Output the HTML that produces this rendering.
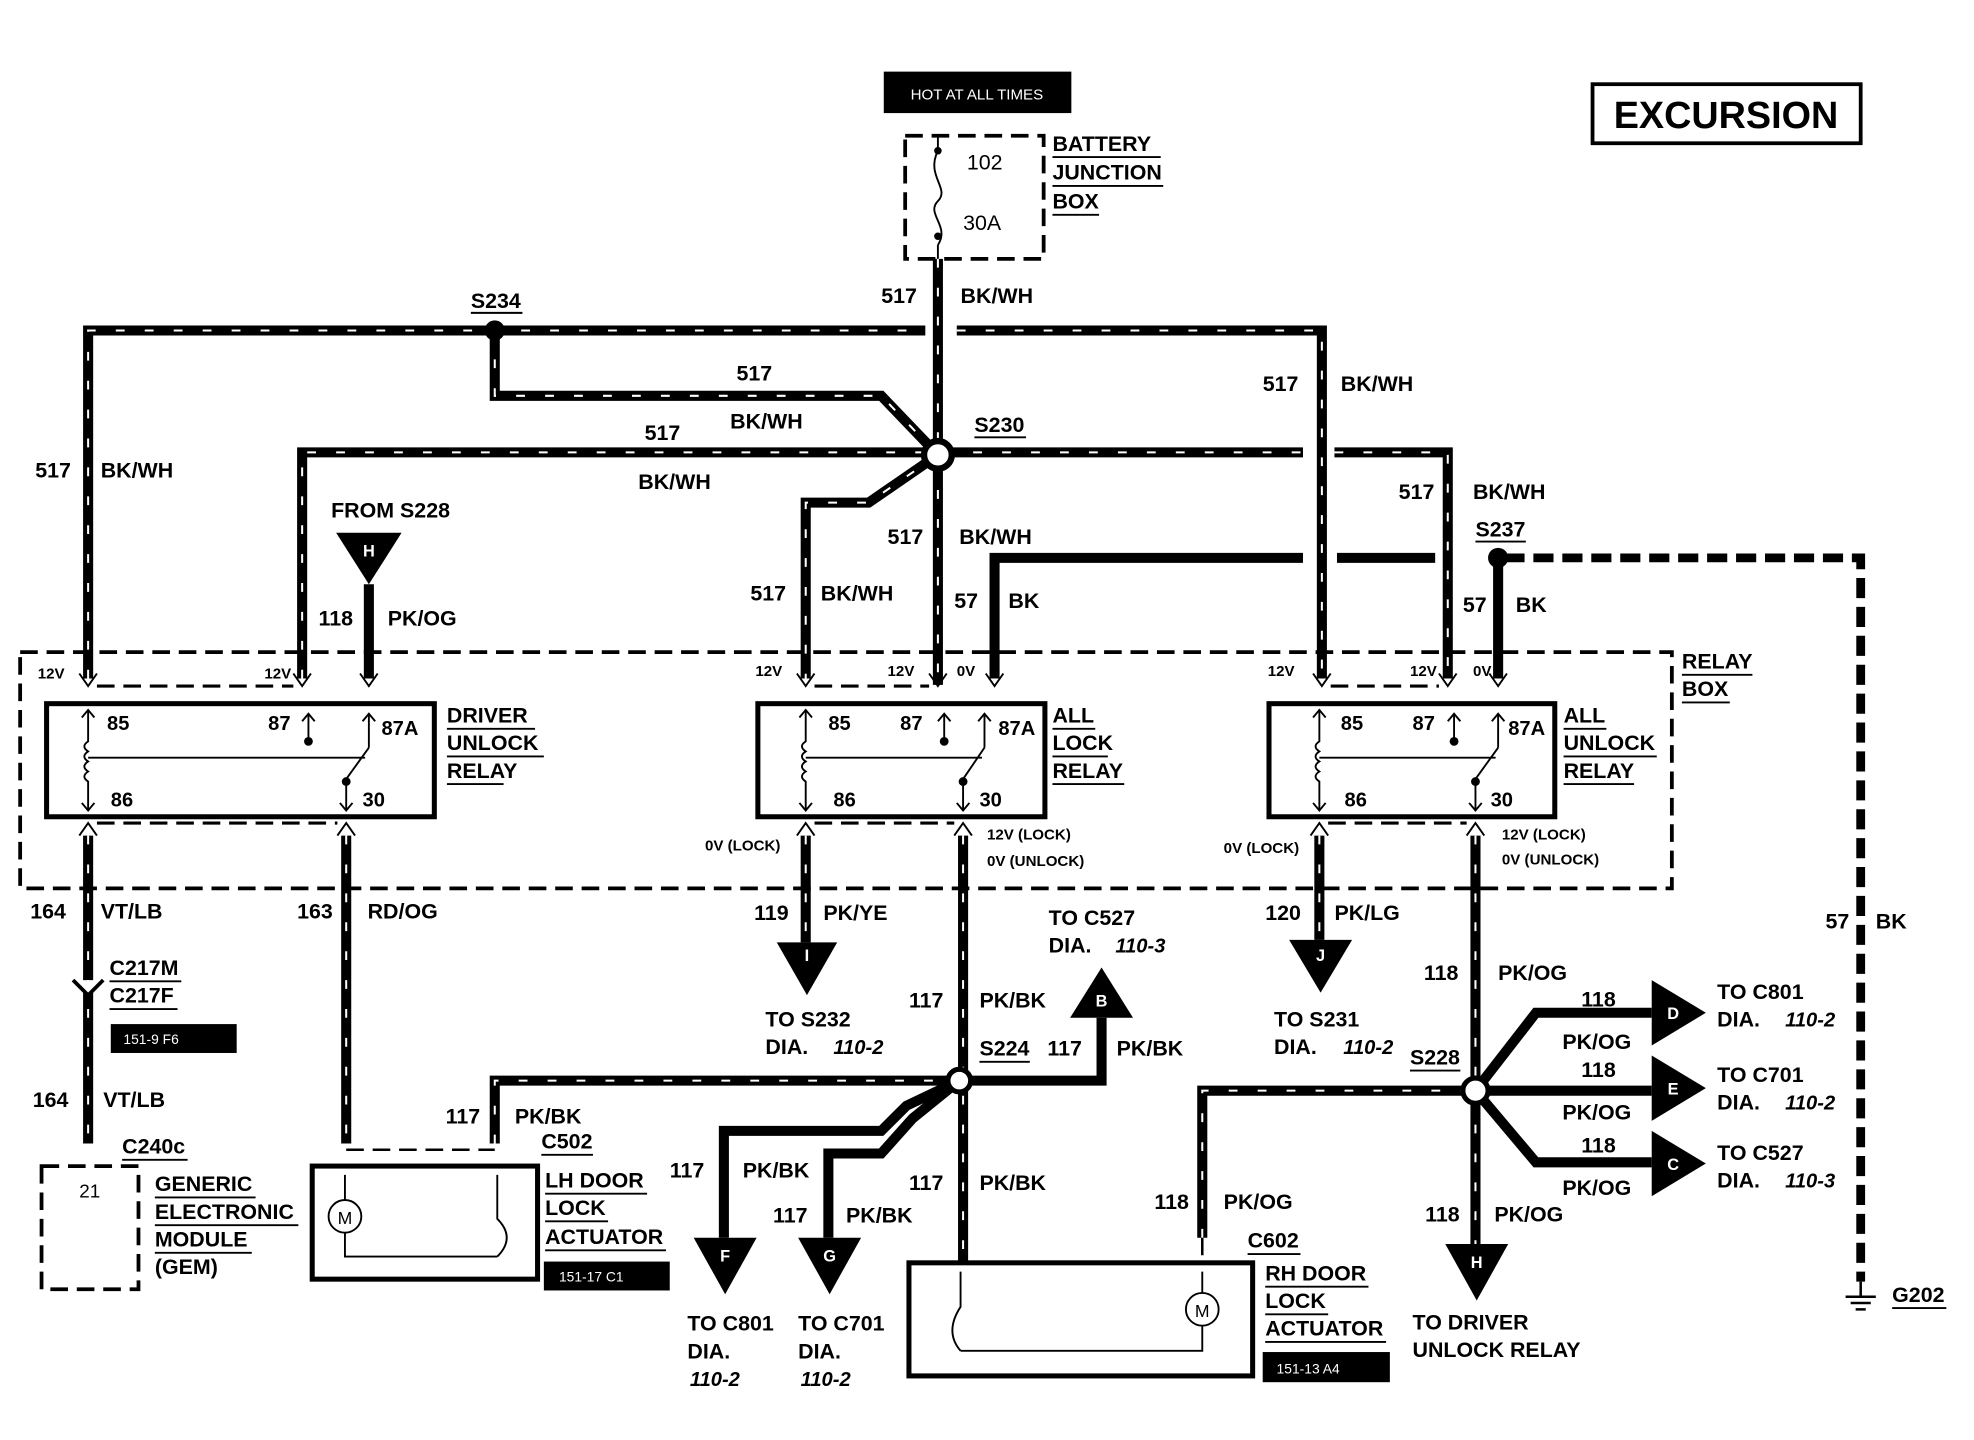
<!DOCTYPE html>
<html><head><meta charset="utf-8"><style>
html,body{margin:0;padding:0;background:#fff}
svg{display:block}
text{font-family:"Liberation Sans",sans-serif;font-weight:bold;fill:#000}
.w{stroke:#000;stroke-width:8;fill:none}
.s{stroke:#fff;stroke-width:1.6;fill:none;stroke-dasharray:7 16}
.d{stroke:#000;stroke-width:3;fill:none;stroke-dasharray:14 7}
.t{font-size:17px}
.it{font-style:italic;font-weight:normal;font-size:16px}
.sm{font-size:12px}
.r{stroke:#000;stroke-width:4;fill:none}
.th{stroke:#000;stroke-width:1.5;fill:none}
</style></head><body>
<svg width="1974" height="1440" viewBox="0 0 1568 1146" preserveAspectRatio="none" xmlns="http://www.w3.org/2000/svg">
<!-- header -->
<rect x="702" y="57" width="149" height="33" fill="#000"/>
<text x="776" y="79" text-anchor="middle" style="font-size:12px;font-weight:normal;fill:#fff">HOT AT ALL TIMES</text>
<rect x="1265" y="67" width="213" height="47" fill="none" stroke="#000" stroke-width="3"/>
<text x="1371" y="102" text-anchor="middle" style="font-size:30px">EXCURSION</text>
<rect x="719" y="108" width="110" height="98" class="d"/>
<path d="M745 108 V120 M745 195 V206" class="th" stroke-width="3"/>
<path d="M745 120 C735 140 755 150 745 160 C735 170 755 180 745 195" class="th" stroke-width="2"/>
<circle cx="745" cy="120" r="3"/><circle cx="745" cy="188" r="3"/>
<text x="768" y="135" class="t" style="font-weight:normal">102</text>
<text x="765" y="183" class="t" style="font-weight:normal">30A</text>
<text x="836" y="120" class="t">BATTERY</text><text x="836" y="143" class="t">JUNCTION</text><text x="836" y="166" class="t">BOX</text>
<path d="M836 125H922M836 148H924M836 171H873" class="th"/>

<!-- BK/WH wires -->
<g>
<path class="w" d="M745 206V545 M70 540V263H735 M760 263H1050V540 M393 263V315H700L745 362 M240 540V360H1035 M1060 360H1150V540 M745 362L690 400H640V540"/>
<path class="s" d="M745 206V545 M70 540V263H735 M760 263H1050V540 M393 263V315H700L745 362 M240 540V360H1035 M1060 360H1150V540 M745 362L690 400H640V540"/>
</g>
<!-- solid BK -->
<path class="w" d="M790 540V444H1035 M1062 444H1140 M1190 444V540"/>
<path class="d" d="M1195 444H1478V1020" style="stroke-width:7;stroke-dasharray:16 7"/>
<circle cx="393" cy="263" r="8"/>
<circle cx="1190" cy="444" r="8"/>
<circle cx="745" cy="362" r="11" fill="#fff" stroke="#000" stroke-width="5"/>
<!-- labels upper -->
<text x="374" y="245" class="t">S234</text><path d="M374 249H415" class="th"/>
<text x="700" y="241" class="t">517</text><text x="763" y="241" class="t">BK/WH</text>
<text x="585" y="303" class="t">517</text><text x="580" y="341" class="t">BK/WH</text>
<text x="512" y="350" class="t">517</text><text x="507" y="389" class="t">BK/WH</text>
<text x="774" y="344" class="t">S230</text><path d="M774 348H815" class="th"/>
<text x="1003" y="311" class="t">517</text><text x="1065" y="311" class="t">BK/WH</text>
<text x="28" y="380" class="t">517</text><text x="80" y="380" class="t">BK/WH</text>
<text x="1111" y="397" class="t">517</text><text x="1170" y="397" class="t">BK/WH</text>
<text x="1172" y="427" class="t">S237</text><path d="M1172 431H1212" class="th"/>
<text x="263" y="412" class="t">FROM S228</text>
<path d="M267 424H319L293 465Z"/><text x="293" y="443" text-anchor="middle" style="font-size:13px;fill:#fff">H</text>
<path class="w" d="M293 465V540"/>
<text x="253" y="498" class="t">118</text><text x="308" y="498" class="t">PK/OG</text>
<text x="705" y="433" class="t">517</text><text x="762" y="433" class="t">BK/WH</text>
<text x="596" y="478" class="t">517</text><text x="652" y="478" class="t">BK/WH</text>
<text x="758" y="484" class="t">57</text><text x="801" y="484" class="t">BK</text>
<text x="1162" y="487" class="t">57</text><text x="1204" y="487" class="t">BK</text>

<!-- relay box -->
<rect x="16" y="519" width="1312" height="188" class="d"/>
<text x="1336" y="532" class="t">RELAY</text><text x="1336" y="554" class="t">BOX</text>
<path d="M1336 537H1392M1336 559H1374" class="th"/>
<g class="sm">
<text x="30" y="540">12V</text><text x="210" y="540">12V</text>
<text x="600" y="538">12V</text><text x="705" y="538">12V</text><text x="760" y="538">0V</text>
<text x="1007" y="538">12V</text><text x="1120" y="538">12V</text><text x="1170" y="538">0V</text>
</g>
<g class="th" stroke-width="3">
<path d="M63 536L70 546L77 536M233 536L240 546L247 536M286 536L293 546L300 536M633 536L640 546L647 536M738 536L745 546L752 536M783 536L790 546L797 536M1043 536L1050 546L1057 536M1143 536L1150 546L1157 536M1183 536L1190 546L1197 536"/>
<path d="M63 665L70 655L77 665M268 665L275 655L282 665M633 665L640 655L647 665M758 665L765 655L772 665M1041 665L1048 655L1055 665M1165 665L1172 655L1179 665"/>
</g>
<path class="d" d="M77 546H233 M647 546H738 M1057 546H1143 M77 655H268 M647 655H758 M1055 655H1165" style="stroke-width:2.5"/>

<!-- relays -->
<rect x="37" y="560" width="308" height="90" class="r"/>
<rect x="602" y="560" width="228" height="90" class="r"/>
<rect x="1008" y="560" width="227" height="90" class="r"/>
<g class="th" stroke-width="2">
<path d="M70 565V590 q-6 4 0 8 q-6 4 0 8 q-6 4 0 8 q-6 4 0 8 V645 M245 568V590 M293 568V595 M275 645V620 L293 595 M70 603H290" />
<path d="M640 565V590 q-6 4 0 8 q-6 4 0 8 q-6 4 0 8 q-6 4 0 8 V645 M750 568V590 M782 568V595 M765 645V620 L782 595 M640 603H780"/>
<path d="M1048 565V590 q-6 4 0 8 q-6 4 0 8 q-6 4 0 8 q-6 4 0 8 V645 M1155 568V590 M1190 568V595 M1172 645V620 L1190 595 M1048 603H1188"/>
<path d="M65 571L70 565L75 571M65 639L70 645L75 639M240 574L245 568L250 574M288 574L293 568L298 574M270 639L275 645L280 639M635 571L640 565L645 571M635 639L640 645L645 639M745 574L750 568L755 574M777 574L782 568L787 574M760 639L765 645L770 639M1043 571L1048 565L1053 571M1043 639L1048 645L1053 639M1150 574L1155 568L1160 574M1185 574L1190 568L1195 574M1167 639L1172 645L1177 639"/>
</g>
<g><circle cx="245" cy="590" r="3.5"/><circle cx="275" cy="622" r="3.5"/><circle cx="750" cy="590" r="3.5"/><circle cx="765" cy="622" r="3.5"/><circle cx="1155" cy="590" r="3.5"/><circle cx="1172" cy="622" r="3.5"/></g>
<g class="t" style="font-weight:normal;font-size:16px">
<text x="85" y="581">85</text><text x="213" y="581">87</text><text x="303" y="585">87A</text><text x="88" y="642">86</text><text x="288" y="642">30</text>
<text x="658" y="581">85</text><text x="715" y="581">87</text><text x="793" y="585">87A</text><text x="662" y="642">86</text><text x="778" y="642">30</text>
<text x="1065" y="581">85</text><text x="1122" y="581">87</text><text x="1198" y="585">87A</text><text x="1068" y="642">86</text><text x="1184" y="642">30</text>
</g>
<text x="355" y="575" class="t">DRIVER</text><text x="355" y="597" class="t">UNLOCK</text><text x="355" y="619" class="t">RELAY</text>
<path d="M355 580H425M355 602H432M355 624H400" class="th"/>
<text x="836" y="575" class="t">ALL</text><text x="836" y="597" class="t">LOCK</text><text x="836" y="619" class="t">RELAY</text>
<path d="M836 580H870M836 602H880M836 624H893" class="th"/>
<text x="1242" y="575" class="t">ALL</text><text x="1242" y="597" class="t">UNLOCK</text><text x="1242" y="619" class="t">RELAY</text>
<path d="M1242 580H1276M1242 602H1316M1242 624H1298" class="th"/>
<g class="sm"><text x="560" y="677">0V (LOCK)</text><text x="784" y="668">12V (LOCK)</text><text x="784" y="689">0V (UNLOCK)</text>
<text x="972" y="679">0V (LOCK)</text><text x="1193" y="668">12V (LOCK)</text><text x="1193" y="688">0V (UNLOCK)</text></g>

<!-- lower wires -->
<path class="w" d="M70 665V910 M275 665V910 M640 665V750 M765 665V1005 M393 910V860H762 M762 860H875V810 M762 860L720 880L700 900H575V985 M762 860L725 890L700 918H658V985 M1048 665V748 M1172 665V990 M955 985V868H1172 M1172 868L1220 806H1312 M1172 868H1312 M1172 868L1220 925H1312"/>
<path class="s" d="M70 665V910 M275 665V910 M640 665V750 M765 665V1005 M393 910V860H762 M1048 665V748 M1172 665V990 M955 985V868H1172"/>
<circle cx="762" cy="860" r="9" fill="#fff" stroke="#000" stroke-width="4"/>
<circle cx="1172" cy="868" r="10" fill="#fff" stroke="#000" stroke-width="4"/>
<path d="M58 780L70 792L82 780" fill="#fff" stroke="#000" stroke-width="3"/>
<path class="d" d="M275 915H393" style="stroke-width:2"/>
<!-- arrows -->
<g>
<path d="M617 750H665L641 792Z"/><text x="641" y="765" text-anchor="middle" style="font-size:13px;fill:#fff">I</text>
<path d="M850 810H900L875 770Z"/><text x="875" y="801" text-anchor="middle" style="font-size:13px;fill:#fff">B</text>
<path d="M1024 748H1074L1049 790Z"/><text x="1049" y="765" text-anchor="middle" style="font-size:13px;fill:#fff">J</text>
<path d="M551 985H601L576 1030Z"/><text x="576" y="1004" text-anchor="middle" style="font-size:13px;fill:#fff">F</text>
<path d="M634 985H684L659 1030Z"/><text x="659" y="1004" text-anchor="middle" style="font-size:13px;fill:#fff">G</text>
<path d="M1148 990H1198L1173 1035Z"/><text x="1173" y="1009" text-anchor="middle" style="font-size:13px;fill:#fff">H</text>
<path d="M1312 780V832L1355 806Z"/><text x="1329" y="811" text-anchor="middle" style="font-size:13px;fill:#fff">D</text>
<path d="M1312 840V892L1355 866Z"/><text x="1329" y="871" text-anchor="middle" style="font-size:13px;fill:#fff">E</text>
<path d="M1312 900V952L1355 926Z"/><text x="1329" y="931" text-anchor="middle" style="font-size:13px;fill:#fff">C</text>
</g>
<!-- lower labels -->
<g class="t">
<text x="24" y="731">164</text><text x="80" y="731">VT/LB</text>
<text x="236" y="731">163</text><text x="292" y="731">RD/OG</text>
<text x="87" y="776">C217M</text><text x="87" y="798">C217F</text>
<text x="26" y="881">164</text><text x="82" y="881">VT/LB</text>
<text x="97" y="918">C240c</text>
<text x="599" y="732">119</text><text x="654" y="732">PK/YE</text>
<text x="608" y="817">TO S232</text><text x="608" y="839">DIA.</text>
<text x="833" y="736">TO C527</text><text x="833" y="758">DIA.</text>
<text x="722" y="802">117</text><text x="778" y="802">PK/BK</text>
<text x="778" y="840">S224</text><text x="832" y="840">117</text><text x="887" y="840">PK/BK</text>
<text x="354" y="894">117</text><text x="409" y="894">PK/BK</text><text x="430" y="914">C502</text>
<text x="1005" y="732">120</text><text x="1060" y="732">PK/LG</text>
<text x="1012" y="817">TO S231</text><text x="1012" y="839">DIA.</text>
<text x="1131" y="780">118</text><text x="1190" y="780">PK/OG</text>
<text x="1120" y="847">S228</text>
<text x="1256" y="801">118</text><text x="1241" y="835">PK/OG</text>
<text x="1256" y="857">118</text><text x="1241" y="891">PK/OG</text>
<text x="1256" y="917">118</text><text x="1241" y="951">PK/OG</text>
<text x="1364" y="795">TO C801</text><text x="1364" y="817">DIA.</text>
<text x="1364" y="861">TO C701</text><text x="1364" y="883">DIA.</text>
<text x="1364" y="923">TO C527</text><text x="1364" y="945">DIA.</text>
<text x="1450" y="739">57</text><text x="1490" y="739">BK</text>
<text x="532" y="937">117</text><text x="590" y="937">PK/BK</text>
<text x="614" y="973">117</text><text x="672" y="973">PK/BK</text>
<text x="722" y="947">117</text><text x="778" y="947">PK/BK</text>
<text x="917" y="962">118</text><text x="972" y="962">PK/OG</text><text x="991" y="993">C602</text>
<text x="1132" y="972">118</text><text x="1187" y="972">PK/OG</text>
<text x="546" y="1059">TO C801</text><text x="546" y="1081">DIA.</text>
<text x="634" y="1059">TO C701</text><text x="634" y="1081">DIA.</text>
<text x="1122" y="1058">TO DRIVER</text><text x="1122" y="1080">UNLOCK RELAY</text>
<text x="1503" y="1036">G202</text>
<text x="123" y="948">GENERIC</text><text x="123" y="970">ELECTRONIC</text><text x="123" y="992">MODULE</text><text x="123" y="1014">(GEM)</text>
<text x="433" y="945">LH DOOR</text><text x="433" y="967">LOCK</text><text x="433" y="990">ACTUATOR</text>
<text x="1005" y="1019">RH DOOR</text><text x="1005" y="1041">LOCK</text><text x="1005" y="1063">ACTUATOR</text>
</g>
<path class="th" d="M87 781H144M87 803H141M97 923H149M778 845H818M1120 852H1160M430 919H471M991 998H1033M1503 1041H1546M123 953H203M123 975H237M123 997H200M433 950H514M433 972H483M433 995H529M1005 1024H1087M1005 1046H1055M1005 1068H1101"/>
<g class="it"><text x="662" y="839">110-2</text><text x="886" y="758">110-3</text><text x="1067" y="839">110-2</text><text x="1418" y="817">110-2</text><text x="1418" y="883">110-2</text><text x="1418" y="945">110-3</text><text x="548" y="1103">110-2</text><text x="636" y="1103">110-2</text></g>
<!-- black tags -->
<rect x="88" y="815" width="100" height="23" fill="#000"/><text x="98" y="831" style="font-size:11px;font-weight:normal;fill:#fff">151-9 F6</text>
<rect x="432" y="1004" width="100" height="23" fill="#000"/><text x="444" y="1020" style="font-size:11px;font-weight:normal;fill:#fff">151-17 C1</text>
<rect x="1003" y="1076" width="101" height="24" fill="#000"/><text x="1014" y="1093" style="font-size:11px;font-weight:normal;fill:#fff">151-13 A4</text>
<!-- GEM -->
<rect x="33" y="928" width="77" height="98" class="d"/>
<text x="63" y="953" class="t" style="font-weight:normal;font-size:15px">21</text>
<!-- LH actuator -->
<rect x="248" y="928" width="179" height="90" class="r"/>
<circle cx="274" cy="968" r="13" class="th" stroke-width="2"/><text x="274" y="974" text-anchor="middle" style="font-size:14px;font-weight:normal">M</text>
<path class="th" d="M274 935V955 M274 981V1000H395 M395 935V970 Q410 985 395 1000"/>
<!-- RH actuator -->
<rect x="722" y="1005" width="273" height="90" class="r"/>
<circle cx="955" cy="1042" r="13" class="th" stroke-width="2"/><text x="955" y="1048" text-anchor="middle" style="font-size:14px;font-weight:normal">M</text>
<path class="th" d="M955 1012V1029 M955 1055V1075H763 M763 1012V1040 Q750 1060 763 1075"/>
<path class="d" d="M765 1000V1005 M955 985V1000" style="stroke-width:2"/>
<!-- ground -->
<path d="M1478 1020V1032 M1466 1032H1490 M1470 1037H1486 M1474 1042H1482" stroke="#000" stroke-width="2"/>
</svg>
</body></html>
